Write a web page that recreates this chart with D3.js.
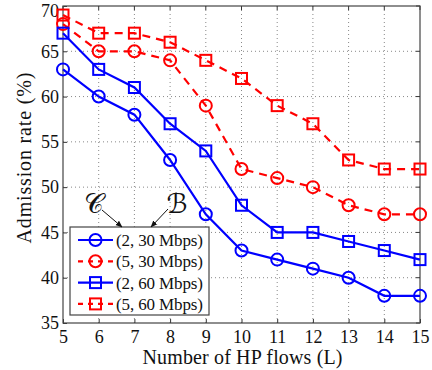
<!DOCTYPE html>
<html>
<head>
<meta charset="utf-8">
<script src="https://cdn.jsdelivr.net/npm/d3@7"></script>
<style>
  body { margin: 0; background: #fff; }
  text { font-family: "Liberation Serif", "DejaVu Serif", serif; }
</style>
</head>
<body>
<svg id="chart"></svg>
<script>
const FLOWS = [5, 6, 7, 8, 9, 10, 11, 12, 13, 14, 15];
const Y_TICKS = [35, 40, 45, 50, 55, 60, 65, 70];
const SERIES_NAMES = ["(2, 30 Mbps)", "(5, 30 Mbps)", "(2, 60 Mbps)", "(5, 60 Mbps)"];
const RATE_2_30 = [63, 60, 58, 53, 47, 43, 42, 41, 40, 38, 38];
const RATE_5_30 = [68, 65, 65, 64, 59, 52, 51, 50, 48, 47, 47];
const RATE_2_60 = [67, 63, 61, 57, 54, 48, 45, 45, 44, 43, 42];
const RATE_5_60 = [69, 67, 67, 66, 64, 62, 59, 57, 53, 52, 52];

const WIDTH = 432;
const HEIGHT = 370;
const LEFT = 63, RIGHT = 420, TOP = 6, BOTTOM = 323;

const series = [
    { name: SERIES_NAMES[0], values: RATE_2_30, color: "#0000ff", dash: null, marker: "circle" },
    { name: SERIES_NAMES[1], values: RATE_5_30, color: "#ff0000", dash: "8,6", marker: "circle" },
    { name: SERIES_NAMES[2], values: RATE_2_60, color: "#0000ff", dash: null, marker: "square" },
    { name: SERIES_NAMES[3], values: RATE_5_60, color: "#ff0000", dash: "8,6", marker: "square" }
];

let svg = d3.select("#chart")
    .attr("width", WIDTH)
    .attr("height", HEIGHT);

let xScale = d3.scaleLinear().domain([5, 15]).range([LEFT, RIGHT]);
let yScale = d3.scaleLinear().domain([35, 70]).range([BOTTOM, TOP]);

// dotted grid
svg.append("g")
    .selectAll("line")
    .data(FLOWS.slice(1, -1))
    .enter().append("line")
    .attr("x1", d => xScale(d)).attr("x2", d => xScale(d))
    .attr("y1", TOP).attr("y2", BOTTOM)
    .attr("stroke", "#888").attr("stroke-width", 1).attr("stroke-dasharray", "1,3");
svg.append("g")
    .selectAll("line")
    .data(Y_TICKS.slice(1, -1))
    .enter().append("line")
    .attr("x1", LEFT).attr("x2", RIGHT)
    .attr("y1", d => yScale(d)).attr("y2", d => yScale(d))
    .attr("stroke", "#888").attr("stroke-width", 1).attr("stroke-dasharray", "1,3");

// axes
let xAxis = d3.axisBottom(xScale).tickValues(FLOWS).tickSize(-4).tickPadding(7);
let yAxis = d3.axisLeft(yScale).tickValues(Y_TICKS).tickSize(-4).tickPadding(4);

let gx = svg.append("g").attr("transform", `translate(0,${BOTTOM})`).call(xAxis);
let gy = svg.append("g").attr("transform", `translate(${LEFT},0)`).call(yAxis);
[gx, gy].forEach(g => {
    g.select(".domain").remove();
    g.selectAll("line").attr("stroke", "#333");
    g.selectAll("text").attr("font-size", "18px").attr("fill", "#111")
        .style("font-family", "'Liberation Serif', serif");
});
// keep the top label inside the picture
gy.selectAll(".tick text").filter(d => d === 70).attr("dy", "0.6em");
// top/right ticks
svg.append("g").selectAll("line").data(FLOWS).enter().append("line")
    .attr("x1", d => xScale(d)).attr("x2", d => xScale(d))
    .attr("y1", TOP).attr("y2", TOP + 4).attr("stroke", "#333");
svg.append("g").selectAll("line").data(Y_TICKS).enter().append("line")
    .attr("x1", RIGHT).attr("x2", RIGHT - 4)
    .attr("y1", d => yScale(d)).attr("y2", d => yScale(d)).attr("stroke", "#333");

// frame
svg.append("rect")
    .attr("x", LEFT).attr("y", TOP)
    .attr("width", RIGHT - LEFT).attr("height", BOTTOM - TOP)
    .attr("fill", "none").attr("stroke", "#444").attr("stroke-width", 1.2);

// lines
let line = d3.line()
    .x((d, i) => xScale(FLOWS[i]))
    .y(d => yScale(d));

function drawMarker(g, shape, x, y, color) {
    if (shape === "circle") {
        g.append("circle").attr("cx", x).attr("cy", y).attr("r", 6)
            .attr("fill", "none").attr("stroke", color).attr("stroke-width", 2);
    } else {
        g.append("rect").attr("x", x - 5.5).attr("y", y - 5.5)
            .attr("width", 11).attr("height", 11)
            .attr("fill", "none").attr("stroke", color).attr("stroke-width", 2);
    }
}

series.forEach(s => {
    let g = svg.append("g");
    g.append("path")
        .attr("d", line(s.values))
        .attr("fill", "none")
        .attr("stroke", s.color)
        .attr("stroke-width", 2.2)
        .attr("stroke-dasharray", s.dash);
    s.values.forEach((v, i) => drawMarker(g, s.marker, xScale(FLOWS[i]), yScale(v), s.color));
});

// legend
let legend = svg.append("g");
legend.append("rect")
    .attr("x", 70).attr("y", 227).attr("width", 139).attr("height", 88)
    .attr("fill", "#fff").attr("stroke", "#444").attr("stroke-width", 1.2);
series.forEach((s, i) => {
    let y = 240 + i * 21.3;
    legend.append("line")
        .attr("x1", 78).attr("x2", 113).attr("y1", y).attr("y2", y)
        .attr("stroke", s.color).attr("stroke-width", 2.2)
        .attr("stroke-dasharray", s.dash ? "5,5" : null);
    drawMarker(legend, s.marker, 95.5, y, s.color);
    legend.append("text")
        .attr("x", 116).attr("y", y)
        .attr("dy", "0.35em")
        .attr("font-size", "17px")
        .attr("textLength", 87)
        .attr("fill", "#111")
        .text(s.name);
});

// annotations
svg.append("defs").append("marker")
    .attr("id", "arrow").attr("viewBox", "0 0 10 10")
    .attr("refX", 9).attr("refY", 5)
    .attr("markerWidth", 7).attr("markerHeight", 7)
    .attr("orient", "auto")
    .append("path").attr("d", "M0,1 L10,5 L0,9 Z").attr("fill", "#111");

svg.append("text").attr("x", 94).attr("y", 213).attr("text-anchor", "middle")
    .attr("font-size", "27px").attr("fill", "#111")
    .style("font-family", "'DejaVu Serif', 'DejaVu Sans', serif").text("𝒞");
svg.append("text").attr("x", 177).attr("y", 213).attr("text-anchor", "middle")
    .attr("font-size", "27px").attr("fill", "#111")
    .style("font-family", "'DejaVu Serif', 'DejaVu Sans', serif").text("ℬ");
svg.append("line").attr("x1", 102).attr("y1", 210).attr("x2", 122).attr("y2", 227)
    .attr("stroke", "#111").attr("stroke-width", 1).attr("marker-end", "url(#arrow)");
svg.append("line").attr("x1", 168).attr("y1", 209).attr("x2", 151).attr("y2", 227)
    .attr("stroke", "#111").attr("stroke-width", 1).attr("marker-end", "url(#arrow)");

// axis titles
svg.append("text")
    .attr("x", (LEFT + RIGHT) / 2 + 1).attr("y", 364)
    .attr("text-anchor", "middle").attr("font-size", "20px").attr("fill", "#111")
    .attr("textLength", 200)
    .text("Number of HP flows (L)");
svg.append("text")
    .attr("transform", "translate(31,158) rotate(-90)")
    .attr("text-anchor", "middle").attr("font-size", "20px").attr("fill", "#111")
    .attr("textLength", 171)
    .text("Admission rate (%)");
</script>
</body>
</html>
